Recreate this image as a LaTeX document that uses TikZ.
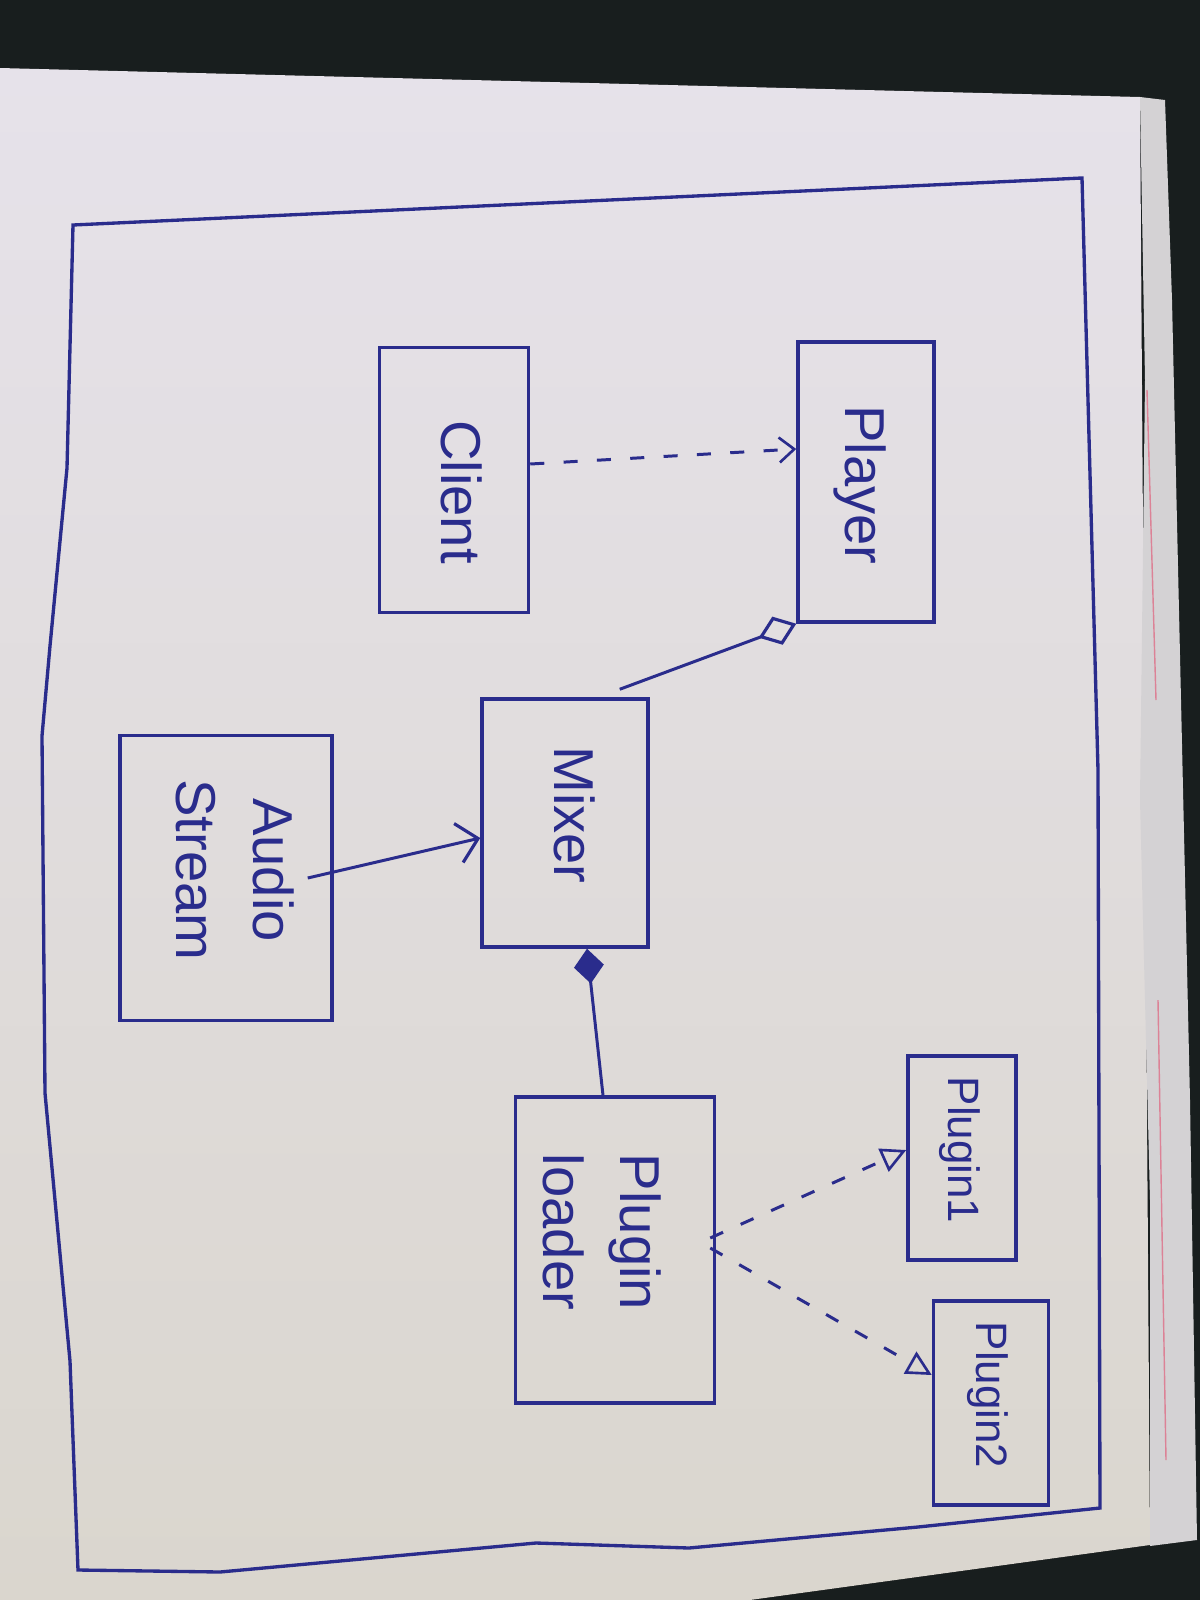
\documentclass[tikz,border=0pt]{standalone}
\usepackage{fontspec}
\setmainfont{Liberation Sans}
\usetikzlibrary{arrows.meta,calc}
\definecolor{ink}{RGB}{42,44,140}
\definecolor{darkbg}{RGB}{24,30,30}
\definecolor{paperTop}{RGB}{230,226,234}
\definecolor{paperBot}{RGB}{218,214,206}
\definecolor{strip}{RGB}{212,210,212}
\definecolor{margin}{RGB}{220,130,150}
\tikzset{
  umlbox/.style={draw=ink, line width=2pt, rectangle, inner sep=0pt},
  lbl/.style={text=ink, rotate=-90, align=center, inner sep=0pt, font=\fontsize{32pt}{44pt}\selectfont},
  smalllbl/.style={lbl, font=\fontsize{25pt}{30pt}\selectfont},
  conn/.style={draw=ink, line width=1.7pt},
  dep/.style={conn, dash pattern=on 8pt off 11pt},
}
\begin{document}
\begin{tikzpicture}[x=0.02cm,y=-0.02cm]
\useasboundingbox (0,0) rectangle (1200,1600);
% photo background
\fill[darkbg] (0,0) rectangle (1200,1600);
\fill[top color=paperTop,bottom color=paperBot] (0,68) -- (1140,97) -- (1150,1545) -- (750,1600) -- (0,1600) -- cycle;
\fill[strip] (1140,97) -- (1165,100) -- (1172,300) -- (1190,1100) -- (1197,1540) -- (1150,1546) -- (1150,1200) -- (1140,800) -- (1145,380) -- cycle;
\draw[margin, line width=0.8pt] (1147,390) -- (1156,700);
\draw[margin, line width=0.8pt] (1158,1000) -- (1166,1460);
% outer frame
\draw[ink, line width=1.9pt] (73,225) -- (1082,178) -- (1098,770) -- (1100,1508) -- (918,1527) -- (689,1548) -- (536,1543) -- (220,1572) -- (78,1570) -- (70,1361) -- (45,1093) -- (42,736) -- (50,646) -- (67,468) -- cycle;
% boxes
\node[umlbox, minimum width=2.72cm, minimum height=5.6cm] (player) at (866,482) {};
\node[umlbox, minimum width=2.98cm, minimum height=5.3cm] (client) at (454,480) {};
\node[umlbox, minimum width=3.32cm, minimum height=4.96cm] (mixer) at (565,823) {};
\node[umlbox, minimum width=4.24cm, minimum height=5.7cm] (audio) at (226,878) {};
\node[umlbox, minimum width=3.98cm, minimum height=6.12cm] (loader) at (615,1250) {};
\node[umlbox, minimum width=2.16cm, minimum height=4.08cm] (plugin1) at (962,1158) {};
\node[umlbox, minimum width=2.3cm, minimum height=4.08cm] (plugin2) at (991,1403) {};
% labels
\node[lbl] (playerT) at (860,485) {Player};
\node[lbl] (clientT) at (462,492) {Client};
\node[lbl] (mixerT) at (575,815) {Mixer};
\node[lbl] (audioT) at (235,870) {Audio\\Stream};
\node[lbl] (loaderT) at (602,1232) {Plugin\\loader};
\node[smalllbl] (plugin1T) at (960,1150) {Plugin1};
\node[smalllbl] (plugin2T) at (988,1395) {Plugin2};
% connectors
\draw[dep, -{Straight Barb[length=3mm,width=5mm,line width=1.5pt]}] (client.east |- 0,464) -- (player.west |- 0,449);
\draw[conn, -{Diamond[open,length=8mm,width=6mm,line width=1.8pt]}] ($(mixer.north east)+(-30,-8)$) -- (player.south west);
\draw[conn, -{Straight Barb[length=4mm,width=8mm,line width=1.8pt]}] ($(audio.east)+(-26,0)$) -- (mixer.west |- 0,838);
\draw[conn, -{Diamond[length=7mm,width=6mm]}] ($(loader.north)+(-12,0)$) -- ($(mixer.south)+(22,0)$);
\draw[dep, -{Triangle[open,length=5mm,width=5mm,line width=1.5pt]}] ($(loader.east)+(-6,-12)$) -- (plugin1.west |- 0,1150);
\draw[dep, -{Triangle[open,length=5mm,width=5mm,line width=1.5pt]}] ($(loader.east)+(-6,-2)$) -- (plugin2.west |- 0,1375);
\end{tikzpicture}
\end{document}
